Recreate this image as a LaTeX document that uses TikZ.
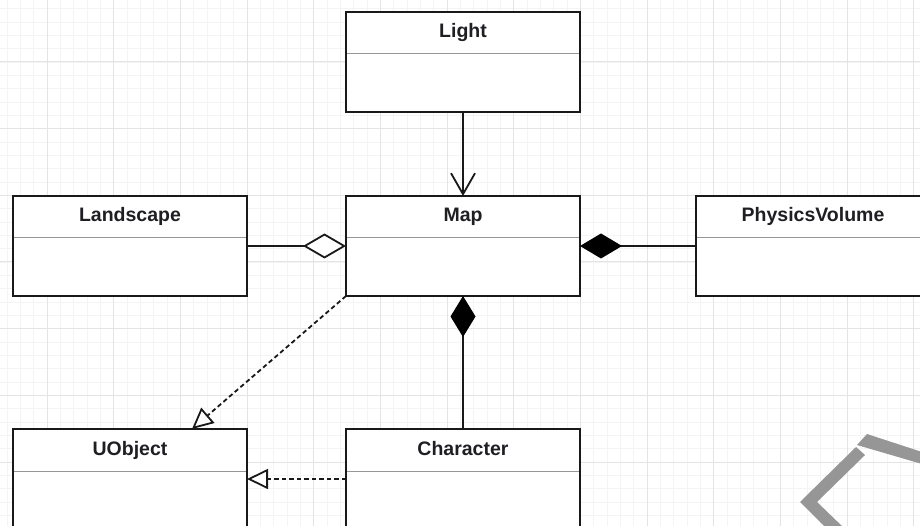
\documentclass[tikz,border=0pt]{standalone}
\usepackage{fontspec}
\setmainfont{Liberation Sans}
\usetikzlibrary{arrows.meta}
\definecolor{boxline}{RGB}{25,25,25}
\definecolor{minorg}{RGB}{244,244,244}
\definecolor{majorg}{RGB}{228,228,228}
\definecolor{divg}{RGB}{150,150,150}
\definecolor{markg}{RGB}{150,150,150}
\definecolor{txt}{RGB}{30,30,35}
\tikzset{
  cls/.style={draw=boxline, line width=2pt, fill=white, minimum width=234pt, minimum height=100pt, inner sep=0pt, outer sep=0pt},
  divider/.style={draw=divg, line width=1pt},
  lbl/.style={anchor=base, inner sep=0pt, text=txt, font=\fontsize{19.5}{23}\selectfont\bfseries},
  conn/.style={draw=boxline, line width=1.8pt},
  dashconn/.style={conn, dash pattern=on 4.5pt off 3pt},
  minorline/.style={draw=minorg, line width=0.8pt},
  majorline/.style={draw=majorg, line width=1pt}
}
\begin{document}
\begin{tikzpicture}[x=1pt,y=-1pt]
\clip (0,0) rectangle (920,526);
\fill[white] (0,0) rectangle (920,526);
% grid
\foreach \i in {0,...,69} {
  \draw[minorline] ({7+13.3333*\i},0) -- ({7+13.3333*\i},526);
}
\foreach \i in {0,...,40} {
  \draw[minorline] (0,{8.667+13.3333*\i}) -- (920,{8.667+13.3333*\i});
}
\foreach \i in {0,...,13} {
  \draw[majorline] ({47+66.6667*\i},0) -- ({47+66.6667*\i},526);
}
\foreach \i in {0,...,7} {
  \draw[majorline] (0,{62+66.6667*\i}) -- (920,{62+66.6667*\i});
}
% classes
\node[cls] (Light) at (463,62) {};
\node[cls] (Map) at (463,246) {};
\node[cls] (Landscape) at (130,246) {};
\node[cls] (PV) at (813,246) {};
\node[cls] (UObject) at (130,479) {};
\node[cls] (Character) at (463,479) {};
\foreach \b/\t in {Light/Light, Map/Map, Landscape/Landscape, PV/PhysicsVolume, UObject/UObject, Character/Character} {
  \draw[divider] ([yshift=-42pt,xshift=1pt]\b.north west) -- ([yshift=-42pt,xshift=-1pt]\b.north east);
  \node[lbl] (\b-t) at ([yshift=-26pt]\b.north) {\t};
}
% connectors
\draw[conn, -{Straight Barb[length=21pt,width=24pt,line width=1.8pt]}] (Light.south) -- (Map.north);
\draw[conn, -{Diamond[length=43pt,width=25pt,fill=white,line width=1.8pt]}] (Landscape.east) -- (Map.west);
\draw[conn, {Diamond[length=42pt,width=25pt,line width=1.2pt,color=black,fill=black]}-] (Map.east) -- (PV.west);
\draw[conn, {Diamond[length=41pt,width=25pt,line width=1.2pt,color=black,fill=black]}-] (Map.south) -- (Character.north);
\draw[dashconn, -{Triangle[length=21pt,width=20pt,fill=white,line width=1.8pt]}] (Map.south west) -- ([xshift=179pt]UObject.north west);
\draw[dashconn, -{Triangle[length=21pt,width=20pt,fill=white,line width=1.8pt]}] (Character.west) -- (UObject.east);
% watermark fragment
\fill[markg] (856,447) -- (800,502) -- (826,528) -- (844,528) -- (817,502) -- (865,455) -- cycle;
\fill[markg] (867,434) -- (922,452) -- (922,464) -- (857,445) -- cycle;
\end{tikzpicture}
\end{document}
